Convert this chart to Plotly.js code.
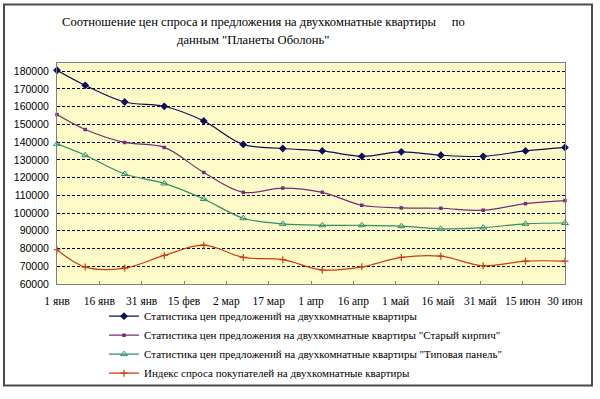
<!DOCTYPE html>
<html>
<head>
<meta charset="utf-8">
<script src="https://cdn.plot.ly/plotly-3.0.1.min.js"></script>
<style>
html,body{margin:0;padding:0;background:#fff;}
#chart{width:600px;height:399px;}
</style>
</head>
<body>
<div id="chart"></div>
<script>
// ---- data ----
const dates = ['2007-01-01','2007-01-11','2007-01-25','2007-02-08','2007-02-22','2007-03-08','2007-03-22',
               '2007-04-05','2007-04-19','2007-05-03','2007-05-17','2007-06-01','2007-06-16','2007-06-30'];
const offerAll   = [180500,172000,162600,160200,151900,138700,136400,135000,132000,134500,132600,132000,135000,137000];
const offerBrick = [155500,147100,139800,137000,122900,111700,114100,111700,104400,102900,102700,101600,105300,107000];
const offerPanel = [139000,132600,122000,116700,107900, 97100, 93900, 93100, 93100, 92600, 91100, 91800, 93900, 94400];
const demandIdx  = [ 79300, 69550, 69000, 76100, 81900, 75000, 73700, 67900, 69700, 75000, 75700, 70300, 72900, 72900];

const seriesNames = [
  'Статистика цен предложений на двухкомнатные квартиры',
  'Статистика цен предложения на двухкомнатные квартиры "Старый кирпич"',
  'Статистика цен предложений на двухкомнатные квартиры "Типовая панель"',
  'Индекс спроса покупателей на двухкомнатные квартиры'
];
const tickDates  = ['2007-01-01','2007-01-16','2007-01-31','2007-02-15','2007-03-02','2007-03-17','2007-04-01',
                    '2007-04-16','2007-05-01','2007-05-16','2007-05-31','2007-06-15','2007-06-30'];
const tickLabels = ['1 янв','16 янв','31 янв','15 фев','2 мар','17 мар','1 апр','16 апр','1 май','16 май','31 май','15 июн','30 июн'];
const yTicks = [60000,70000,80000,90000,100000,110000,120000,130000,140000,150000,160000,170000,180000];

const titleLine1 = 'Соотношение цен спроса и предложения на двухкомнатные квартиры\u00a0\u00a0\u00a0\u00a0 по';
const titleLine2 = 'данным "Планеты Оболонь"';

// ---- styles ----
const SERIF = '"Liberation Serif", "Times New Roman", serif';
const SANS = '"Liberation Sans", Arial, sans-serif';
const colors = ['#0d0d5e','#7a2a78','#2f8f6a','#cc3a10'];
const markers = [
  {symbol:'diamond', size:6},
  {symbol:'square', size:3.5},
  {symbol:'triangle-up-open', size:6, lw:1},
  {symbol:'cross-thin-open', size:5, lw:1.2}
];
const ys = [offerAll, offerBrick, offerPanel, demandIdx];

const traces = ys.map((y,i)=>({
  x: dates, y: y, name: seriesNames[i], type:'scatter', mode:'lines+markers',
  line:{color:colors[i], width:1.2, shape:'spline', smoothing:1},
  marker:{color:colors[i], symbol:markers[i].symbol, size:markers[i].size,
          line:{color:colors[i], width:markers[i].lw||0}},
  cliponaxis:false
}));

const W=600, H=399;
const L=57, R=565, T=62.7, B=284.3;
const pw=R-L, ph=B-T;
const px = x => (x-L)/pw;
const py = y => (B-y)/ph;

const layout = {
  width:W, height:H,
  margin:{l:L, r:W-R, t:T, b:H-B, pad:0, autoexpand:false},
  paper_bgcolor:'#ffffff',
  plot_bgcolor:'#fdfbc8',
  showlegend:true,
  font:{family:SERIF, color:'#000'},
  xaxis:{
    type:'date', range:['2007-01-01','2007-06-30'],
    tickmode:'array', tickvals:tickDates, ticktext:tickLabels,
    ticks:'inside', ticklen:3, tickcolor:'#808080', tickwidth:1,
    showgrid:false, zeroline:false,
    showline:true, linecolor:'#808080', linewidth:1, mirror:true,
    tickfont:{family:SERIF, size:11.5, color:'#000'},
    ticklabelstandoff:6, fixedrange:true, automargin:false
  },
  yaxis:{
    range:[60000,184600],
    tickmode:'array', tickvals:yTicks, ticktext:yTicks.map(String),
    ticks:'', showgrid:true, gridcolor:'#000000', gridwidth:1, griddash:'3px,2px',
    zeroline:false, showline:true, linecolor:'#808080', linewidth:1, mirror:true,
    tickfont:{family:SANS, size:10.5, color:'#000'},
    ticklabelstandoff:5, fixedrange:true, automargin:false
  },
  legend:{
    x:px(104), y:py(302), xanchor:'left', yanchor:'top',
    bgcolor:'rgba(0,0,0,0)', borderwidth:0,
    font:{family:SERIF, size:11, color:'#000'},
    tracegroupgap:0, itemwidth:30
  },
  annotations:[
    {xref:'paper', yref:'paper', x:px(263.5), y:py(22), xanchor:'center', yanchor:'middle',
     text:titleLine1, showarrow:false, font:{family:SERIF, size:12.6, color:'#000'}},
    {xref:'paper', yref:'paper', x:px(252.5), y:py(40), xanchor:'center', yanchor:'middle',
     text:titleLine2, showarrow:false, font:{family:SERIF, size:12.6, color:'#000'}}
  ],
  shapes:[
    {type:'rect', xref:'paper', yref:'paper', x0:px(4), x1:px(592), y0:py(386), y1:py(4),
     line:{color:'#4a4a4a', width:2}, layer:'below'}
  ]
};

Plotly.newPlot('chart', traces, layout, {staticPlot:true, displayModeBar:false});
</script>
</body>
</html>
